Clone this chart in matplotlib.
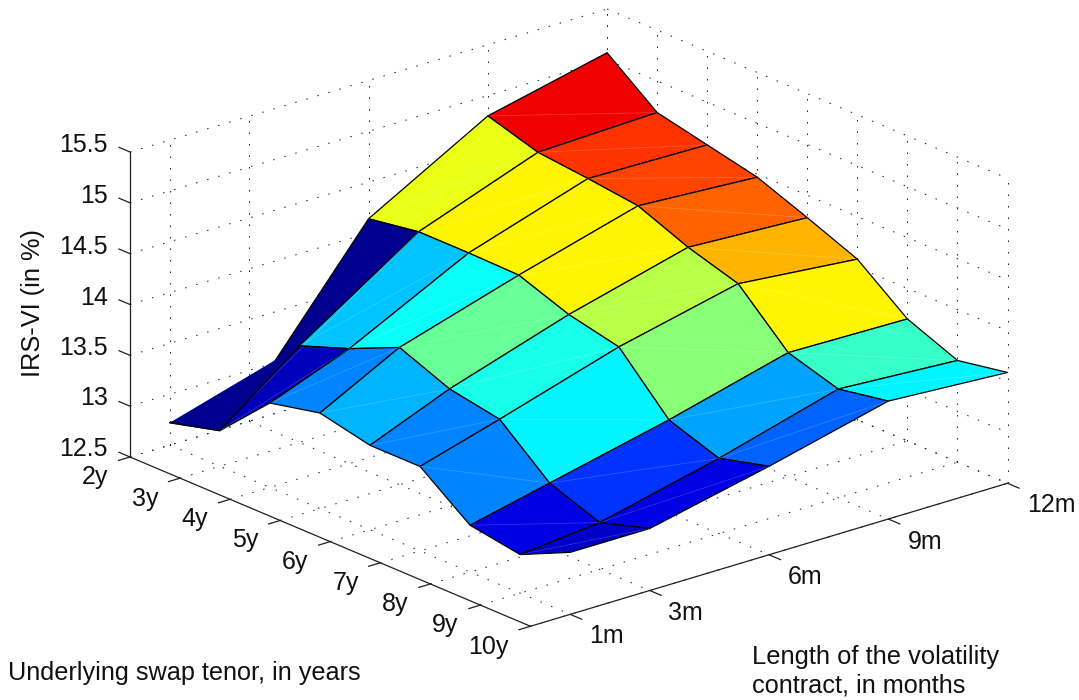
import numpy as np
import matplotlib
matplotlib.use('Agg')
import matplotlib.pyplot as plt
from matplotlib.colors import LinearSegmentedColormap, Normalize
from mpl_toolkits.mplot3d import proj3d
from mpl_toolkits.mplot3d.art3d import Poly3DCollection

plt.rcParams['font.family'] = ['Liberation Sans', 'DejaVu Sans']

tenors = [2, 3, 4, 5, 6, 7, 8, 9, 10]
months = [1, 3, 6, 9, 12]
tenor_labels = ['2y', '3y', '4y', '5y', '6y', '7y', '8y', '9y', '10y']
month_labels = ['1m', '3m', '6m', '9m', '12m']
z_ticks = [12.5, 13, 13.5, 14, 14.5, 15, 15.5]
z_labels = ['12.5', '13', '13.5', '14', '14.5', '15', '15.5']

vi_1m = [12.72, 12.85, 13.33, 13.44, 13.33, 13.33, 12.96, 12.88, 13.11]
vi_3m = [12.71, 13.45, 13.63, 13.85, 13.65, 13.56, 13.14, 12.96, 13.11]
vi_6m = [14.14, 14.22, 14.22, 14.21, 14.03, 13.92, 13.41, 13.24, 13.37]
vi_9m = [14.80, 14.65, 14.60, 14.54, 14.34, 14.19, 13.72, 13.57, 13.66]
vi_12m = [15.07, 14.69, 14.58, 14.47, 14.28, 14.08, 13.70, 13.50, 13.59]

W, H = 1079, 700
fig = plt.figure(figsize=(W / 100, H / 100), dpi=100, facecolor='white')
ax = fig.add_axes([-0.2, -0.5, 1.4, 2.0], projection='3d')
ax.set_proj_type('ortho')
ax.computed_zorder = False
ax.view_init(elev=20.85, azim=-40.1)
ax.set_xlim(2, 10)
ax.set_ylim(0, 12)
ax.set_zlim(12.5, 15.5)
ax.set_axis_off()
ax.patch.set_visible(False)
BOX = (621, 623, 326)


def to_px(x, y, z):
    ax.apply_aspect()
    u, v, _ = proj3d.proj_transform(x, y, z, ax.get_proj())
    d = ax.transData.transform((u, v))
    return d[0], H - d[1]


# fit the box to the reference's frame: z axis 305 px tall, origin corner at (130, 457)
ax.set_box_aspect(BOX, zoom=1.0)
p0 = to_px(2, 0, 12.5)
p1 = to_px(2, 0, 15.5)
ax.set_box_aspect(BOX, zoom=305.0 / abs(p1[1] - p0[1]))
p0 = to_px(2, 0, 12.5)
pos = ax.get_position(original=True)
ax.set_position([pos.x0 + (130 - p0[0]) / W, pos.y0 - (457 - p0[1]) / H, pos.width, pos.height])

T = np.array(tenors, float)
M = np.array(months, float)
Z = np.array([vi_1m, vi_3m, vi_6m, vi_9m, vi_12m])
XX, YY = np.meshgrid(T, M)

jet = LinearSegmentedColormap.from_list(
    'matlab_jet',
    [(0, (0, 0, .5625)), (.125, (0, 0, 1)), (.375, (0, 1, 1)),
     (.625, (1, 1, 0)), (.875, (1, 0, 0)), (1, (.5, 0, 0))], N=64)
norm = Normalize(Z.min(), Z.max())
colors = jet(norm(Z))

# dotted grid on the floor and two back walls
grid = dict(color='#202020', lw=0.72, ls=(0, (1.5, 10.0)), zorder=1)
for t in T:
    ax.plot([t, t], [0, 12], [12.5, 12.5], **grid)
    ax.plot([t, t], [12, 12], [12.5, 15.5], **grid)
for m in M:
    ax.plot([2, 10], [m, m], [12.5, 12.5], **grid)
    ax.plot([2, 2], [m, m], [12.5, 15.5], **grid)
for z in z_ticks:
    ax.plot([2, 2], [0, 12], [z, z], **grid)
    ax.plot([2, 10], [12, 12], [z, z], **grid)

# surface
ax.plot_surface(XX, YY, Z, facecolors=colors, rstride=1, cstride=1, shade=False,
                edgecolor='black', linewidth=0.9, antialiased=True, zorder=2)

# faint triangle seams across each face
for i in range(len(M) - 1):
    for j in range(len(T) - 1):
        if i == 0 and j == 0:
            continue
        ax.plot([T[j], T[j + 1]], [M[i], M[i + 1]], [Z[i, j], Z[i + 1, j + 1]],
                color='white', lw=0.5, alpha=0.22, zorder=3)

# the first, folded face is filled along its other diagonal in the reference
tri = Poly3DCollection([[(T[0], M[0], Z[0, 0]), (T[1], M[0], Z[0, 1]), (T[1], M[1], Z[1, 1])]],
                       facecolors=[colors[0, 0]], edgecolors='none', zorder=4)
ax.add_collection3d(tri)
ax.plot([T[0], T[1], T[1]], [M[0], M[0], M[1]], [Z[0, 0], Z[0, 1], Z[1, 1]],
        color='black', lw=0.9, zorder=5)

# axis lines and ticks
axl = dict(color='#202020', lw=0.9, zorder=6)
ax.plot([2, 2], [0, 0], [12.5, 15.5], **axl)
ax.plot([2, 10], [0, 0], [12.5, 12.5], **axl)
ax.plot([10, 10], [0, 12], [12.5, 12.5], **axl)
for z in z_ticks:
    ax.plot([2, 1.78], [0, 0], [z, z], clip_on=False, **axl)
for t in T:
    ax.plot([t, t], [0, -0.29], [12.5, 12.5], **axl)
for m in M:
    ax.plot([10, 10.23], [m, m], [12.5, 12.5], **axl)


def txt(x, y, s, **kw):
    fig.text(x / W, 1 - y / H, s, color='#111111', **kw)


z_label_y = [449, 398, 348, 298, 247, 196, 145]
for y, s in zip(z_label_y, z_labels):
    txt(108, y, s, ha='right', va='center', fontsize=18)

tenor_pos = [(95, 477), (145, 499), (195, 519), (245, 540), (295, 562),
             (346, 583), (395, 604), (445, 625), (488, 647)]
for (x, y), s in zip(tenor_pos, tenor_labels):
    txt(x, y, s, ha='center', va='center', fontsize=18)

month_pos = [(606, 636), (685, 613), (805, 577), (925, 542), (1051, 505)]
for (x, y), s in zip(month_pos, month_labels):
    txt(x, y, s, ha='center', va='center', fontsize=18)

txt(33, 303, 'IRS-VI (in %)', rotation=90, ha='center', va='center', fontsize=18.3)
txt(8, 673, 'Underlying swap tenor, in years', ha='left', va='center', fontsize=18.2)
txt(752, 657, 'Length of the volatility', ha='left', va='center', fontsize=18.4)
txt(752, 685, 'contract, in months', ha='left', va='center', fontsize=18.2)

fig.savefig('out.png', dpi=100, facecolor='white')
